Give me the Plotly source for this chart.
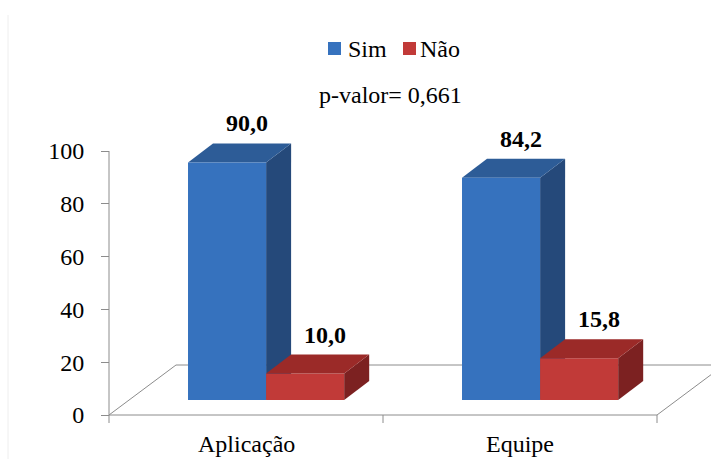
import plotly.graph_objects as go

# ---------------- data ----------------
categories = ["Aplicação", "Equipe"]
series_names = ["Sim", "Não"]
sim_values = [90.0, 84.2]
nao_values = [10.0, 15.8]
value_labels_sim = ["90,0", "84,2"]
value_labels_nao = ["10,0", "15,8"]
y_ticks = [0, 20, 40, 60, 80, 100]
p_value_text = "p-valor= 0,661"

# ---------------- styling / geometry ----------------
W, H = 711, 459
X0_PX, Y0_PX = 109, 415          # pixel of data origin (front plane)
PX_PER_X = 274.0                 # pixels per category unit
PX_PER_Y = 2.64                  # pixels per value unit
FONT = "Liberation Serif"
AXIS_COL = "#8C8C8C"

front_cols = ["#3672BE", "#C13A38"]
side_cols = ["#25497A", "#7C2121"]
top_cols = ["#2D5C97", "#9B2A28"]


def dx(px):
    return px / PX_PER_X


def dy(px):
    return px / PX_PER_Y


floor_dx, floor_dy = dx(67), dy(50)
front_dx, front_dy = floor_dx * 0.3, floor_dy * 0.3
bar_dx, bar_dy = dx(25), dy(19)
bar_w = 0.285

series_values = [sim_values, nao_values]
series_labels = [value_labels_sim, value_labels_nao]
n_cat = len(categories)

fig = go.Figure()
shapes = []
annotations = []

# floor
shapes.append(dict(
    type="path", xref="x", yref="y", layer="below",
    path=f"M 0,0 L {n_cat},0 L {n_cat + floor_dx},{floor_dy} L {floor_dx},{floor_dy} Z",
    line=dict(color=AXIS_COL, width=1), fillcolor="white"))

# bars (front faces via Bar traces, 3D faces as shapes)
for j, (name, vals) in enumerate(zip(series_names, series_values)):
    xs, lefts = [], []
    for i in range(n_cat):
        left = i + 0.5 - bar_w + j * bar_w + front_dx
        lefts.append(left)
        xs.append(left + bar_w / 2)
    fig.add_trace(go.Bar(
        x=xs, y=vals, base=[front_dy] * n_cat, width=[bar_w] * n_cat,
        name=name, marker=dict(color=front_cols[j], line=dict(width=0)),
        showlegend=False, hoverinfo="skip"))
    for i, v in enumerate(vals):
        L = lefts[i]
        R = L + bar_w
        B = front_dy
        T = front_dy + v
        layer = "below" if j == 0 else "above"
        # side face
        shapes.append(dict(
            type="path", xref="x", yref="y", layer=layer,
            path=f"M {R},{B} L {R + bar_dx},{B + bar_dy} L {R + bar_dx},{T + bar_dy} L {R},{T} Z",
            line=dict(width=0), fillcolor=side_cols[j]))
        # top face
        shapes.append(dict(
            type="path", xref="x", yref="y", layer=layer,
            path=f"M {L},{T} L {R},{T} L {R + bar_dx},{T + bar_dy} L {L + bar_dx},{T + bar_dy} Z",
            line=dict(width=0), fillcolor=top_cols[j]))
        # value label
        annotations.append(dict(
            x=L + bar_w / 2 + bar_dx * 0.8, y=T + bar_dy, xref="x", yref="y",
            text=f"<b>{series_labels[j][i]}</b>", showarrow=False,
            xanchor="center", yanchor="middle", yshift=20,
            font=dict(family=FONT, size=24, color="black")))

# y axis line (extends down to form a tick) and category ticks
shapes.append(dict(type="line", xref="x", yref="y", x0=0, x1=0,
                   y0=-dy(8), y1=y_ticks[-1], line=dict(color=AXIS_COL, width=1)))
for i in range(1, n_cat + 1):
    shapes.append(dict(type="line", xref="x", yref="y", x0=i, x1=i,
                       y0=-dy(8), y1=0, line=dict(color=AXIS_COL, width=1)))

# faint border line at left
shapes.append(dict(type="line", xref="paper", yref="paper",
                   x0=8 / W, x1=8 / W, y0=0, y1=1 - 15 / H,
                   line=dict(color="#EEEEEE", width=1)))

# category labels
for i, c in enumerate(categories):
    annotations.append(dict(
        x=i + 0.5, y=-dy(29), xref="x", yref="y", text=c, showarrow=False,
        xanchor="center", yanchor="middle",
        font=dict(family=FONT, size=24, color="black")))

# manual legend
legend_items = [(328, 347), (403, 419)]
for j, name in enumerate(series_names):
    sq_x, tx = legend_items[j]
    shapes.append(dict(type="rect", xref="paper", yref="paper",
                       x0=sq_x / W, x1=(sq_x + 13) / W,
                       y0=1 - 55 / H, y1=1 - 42 / H,
                       line=dict(width=0), fillcolor=front_cols[j]))
    annotations.append(dict(
        x=(tx - 1) / W, y=1 - 49 / H, xref="paper", yref="paper", text=name,
        showarrow=False, xanchor="left", yanchor="middle",
        font=dict(family=FONT, size=24, color="black")))

annotations.append(dict(
    x=390 / W, y=1 - 95 / H, xref="paper", yref="paper", text=p_value_text,
    showarrow=False, xanchor="center", yanchor="middle",
    font=dict(family=FONT, size=24, color="black")))

fig.update_layout(
    width=W, height=H, margin=dict(l=0, r=0, t=0, b=0),
    paper_bgcolor="white", plot_bgcolor="white",
    barmode="overlay", showlegend=False,
    font=dict(family=FONT),
    shapes=shapes, annotations=annotations,
    xaxis=dict(range=[-X0_PX / PX_PER_X, (W - X0_PX) / PX_PER_X],
               visible=False, fixedrange=True),
    yaxis=dict(range=[-(H - Y0_PX) / PX_PER_Y, Y0_PX / PX_PER_Y],
               anchor="free", position=X0_PX / W,
               tickvals=y_ticks, ticktext=[str(t) for t in y_ticks],
               ticks="outside", ticklen=8, tickcolor=AXIS_COL, tickwidth=1,
               showgrid=False, zeroline=False, showline=False,
               ticklabelstandoff=12,
               tickfont=dict(family=FONT, size=24, color="black")),
)

fig.write_html("out.html")
